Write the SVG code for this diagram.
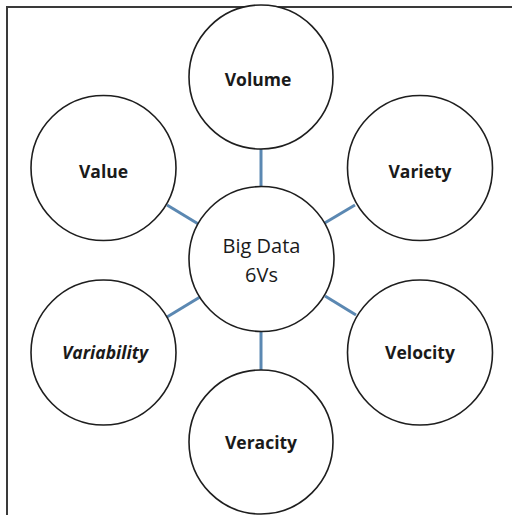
<svg xmlns="http://www.w3.org/2000/svg" width="512" height="515" viewBox="0 0 512 515">
  <style>
    .node circle { fill: #ffffff; stroke: #1e1e1e; stroke-width: 1.6; }
    .lbl { font-family: "Open Sans", Lato, "Liberation Sans", sans-serif; font-size: 17.5px; font-weight: bold; fill: #1a1a1a; text-anchor: middle; }
    .hub { font-family: "Open Sans", Lato, "Liberation Sans", sans-serif; font-size: 20px; fill: #1a1a1a; text-anchor: middle; }
    .edge { stroke: #5b88b2; stroke-width: 3; fill: none; }
    .frame { stroke: #3a3a3a; stroke-width: 2; fill: none; }
  </style>
  <rect width="512" height="515" fill="#ffffff"/>
  <path class="frame" d="M7 515 V7 H512"/>

  <g id="connectors">
    <line class="edge" x1="261" y1="149" x2="261" y2="188"/>
    <line class="edge" x1="167" y1="205" x2="200" y2="225"/>
    <line class="edge" x1="355" y1="205" x2="323" y2="224"/>
    <line class="edge" x1="167" y1="317" x2="200" y2="297"/>
    <line class="edge" x1="325" y1="296" x2="356" y2="315"/>
    <line class="edge" x1="261" y1="331" x2="261" y2="370"/>
  </g>

  <g id="volume" class="node">
    <circle cx="261" cy="77" r="72"/>
    <text class="lbl" x="258" y="86">Volume</text>
  </g>
  <g id="value" class="node">
    <circle cx="103.5" cy="168" r="72.5"/>
    <text class="lbl" x="103.5" y="178">Value</text>
  </g>
  <g id="variety" class="node">
    <circle cx="420" cy="168" r="72.5"/>
    <text class="lbl" x="420" y="178">Variety</text>
  </g>
  <g id="big-data" class="node">
    <circle cx="261.5" cy="259" r="72.5"/>
    <text class="hub" x="261.5" y="253">Big Data</text>
    <text class="hub" x="261.5" y="282">6Vs</text>
  </g>
  <g id="variability" class="node">
    <circle cx="103.5" cy="352.5" r="72.5"/>
    <text class="lbl" x="105" y="359" font-style="italic">Variability</text>
  </g>
  <g id="velocity" class="node">
    <circle cx="420" cy="352.5" r="72.5"/>
    <text class="lbl" x="420" y="359">Velocity</text>
  </g>
  <g id="veracity" class="node">
    <circle cx="261" cy="442" r="72"/>
    <text class="lbl" x="261" y="449">Veracity</text>
  </g>
</svg>
